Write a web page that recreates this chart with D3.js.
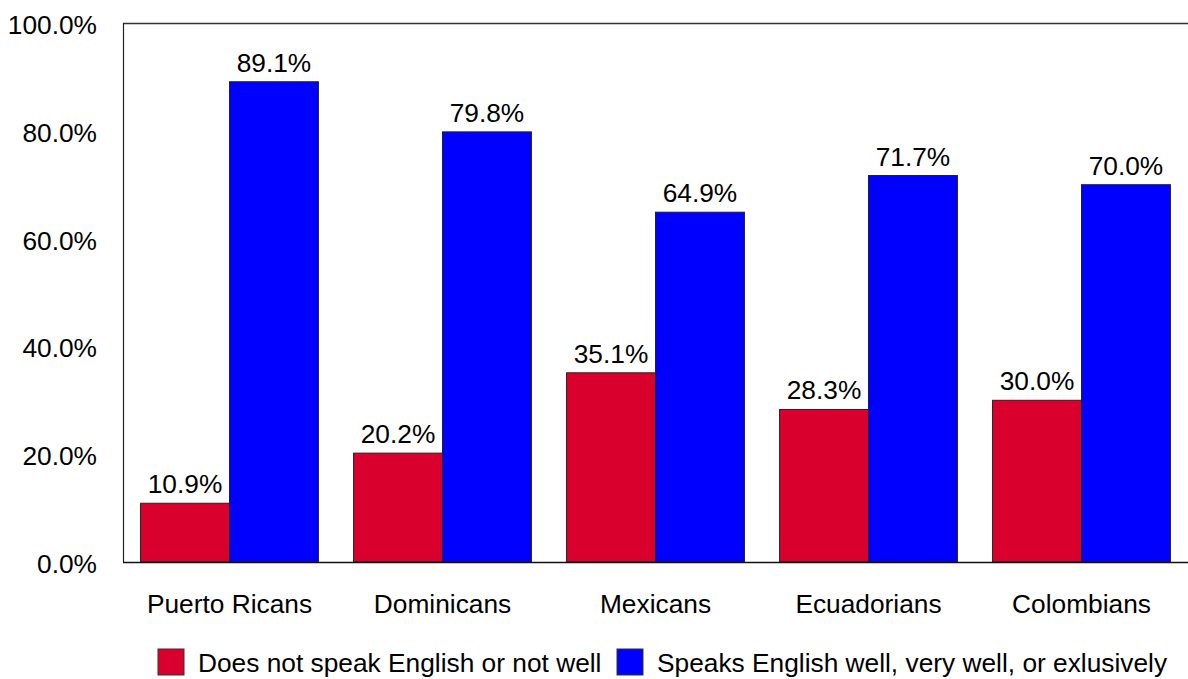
<!DOCTYPE html>
<html><head><meta charset="utf-8">
<script src="https://cdn.jsdelivr.net/npm/d3@7"></script>
<style>body{margin:0;background:#fff}svg{display:block;font-family:"Liberation Sans",Arial,sans-serif}</style>
</head><body><svg id="c" width="1188" height="679"></svg>
<script>
const categories = ["Puerto Ricans","Dominicans","Mexicans","Ecuadorians","Colombians"];
const seriesNames = ["Does not speak English or not well","Speaks English well, very well, or exlusively"];
const notWell = [10.9,20.2,35.1,28.3,30.0];
const well = [89.1,79.8,64.9,71.7,70.0];
const yTicks = [0,20,40,60,80,100];
const colors = ["#da002e","#0000ff"];

const FS = 26.3;
const svg = d3.select("#c");
const L=123, T=23, R=1188, B=562;
const x0 = d3.scaleBand().domain(categories).range([L,R]).paddingInner(0.165).paddingOuter(0.0825);
const x1 = d3.scaleBand().domain([0,1]).range([0,x0.bandwidth()]);
const y = d3.scaleLinear().domain([0,100]).range([B,T]);

svg.append("line").attr("x1",L).attr("x2",R).attr("y1",T+0.5).attr("y2",T+0.5).attr("stroke","#333").attr("stroke-width",1.5);
svg.append("line").attr("x1",L+0.5).attr("x2",L+0.5).attr("y1",T).attr("y2",B).attr("stroke","#222").attr("stroke-width",1.2);

const yAxis = d3.axisLeft(y).tickValues(yTicks).tickSize(0).tickPadding(26).tickFormat(d=>d.toFixed(1)+"%");
const ga = svg.append("g").attr("transform",`translate(${L},2)`).call(yAxis);
ga.select(".domain").remove();
ga.selectAll("text").attr("font-size",FS).attr("fill","#000").attr("font-family","Liberation Sans, Arial, sans-serif");

const data = categories.map((c,i)=>({c, v:[notWell[i], well[i]]}));
const g = svg.append("g");
data.forEach(d=>{
  d.v.forEach((v,j)=>{
    const bx = x0(d.c)+x1(j);
    g.append("rect").attr("x",bx).attr("y",y(v)).attr("width",x1.bandwidth()).attr("height",B-y(v))
      .attr("fill",colors[j]).attr("stroke","#222").attr("stroke-width",1);
    g.append("text").attr("x",bx+x1.bandwidth()/2).attr("y",y(v)-10).attr("text-anchor","middle")
      .attr("font-size",FS).attr("fill","#000").text(v.toFixed(1)+"%");
  });
});

const xAxis = d3.axisBottom(x0).tickSize(0).tickPadding(32);
const gx = svg.append("g").attr("transform",`translate(0,${B})`).call(xAxis);
gx.select(".domain").attr("stroke","#111").attr("stroke-width",1.5).attr("d",`M${L},0.5H${R}`);
gx.selectAll("text").attr("font-size",FS).attr("fill","#000").attr("font-family","Liberation Sans, Arial, sans-serif");

const legX = [158,617];
seriesNames.forEach((n,j)=>{
  svg.append("rect").attr("x",legX[j]).attr("y",649).attr("width",26).attr("height",26)
    .attr("fill",colors[j]).attr("stroke","#333").attr("stroke-width",1);
  svg.append("text").attr("x",legX[j]+40).attr("y",672).attr("font-size",FS).attr("fill","#000").text(n);
});
</script></body></html>
